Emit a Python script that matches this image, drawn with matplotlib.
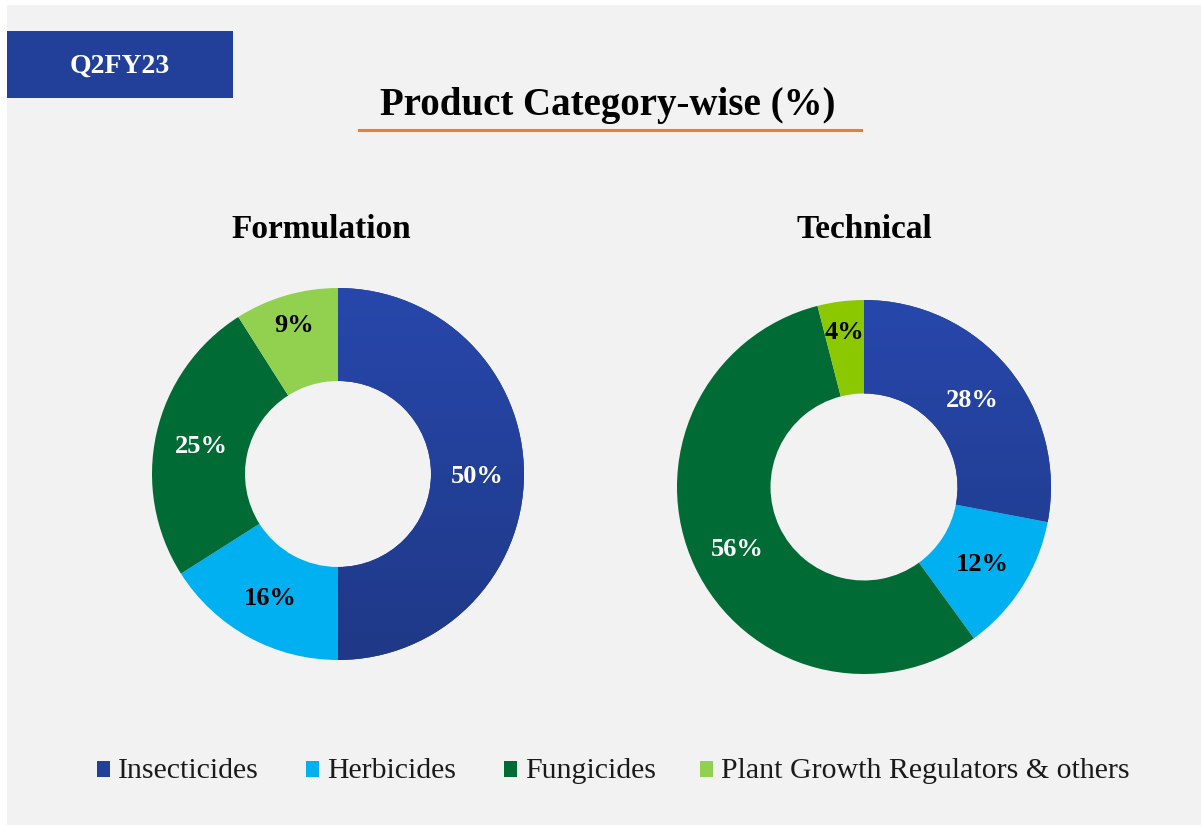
import numpy as np
import matplotlib
matplotlib.use('Agg')
import matplotlib.pyplot as plt
from matplotlib.patches import Rectangle
from matplotlib.colors import LinearSegmentedColormap

# 数据
categories = ['Insecticides', 'Herbicides', 'Fungicides', 'Plant Growth Regulators & others']
formulation = [50, 16, 25, 9]
technical = [28, 12, 56, 4]
colors_left = ['#2443a3', '#00b0f0', '#006b35', '#92d050']
colors_right = ['#2443a3', '#00b0f0', '#006b35', '#8cc800']
label_colors = ['white', 'black', 'white', 'black']

W, H = 1201, 825
serif = ['Liberation Serif', 'DejaVu Serif']
plt.rcParams['font.family'] = serif

fig = plt.figure(figsize=(W / 100, H / 100), dpi=100, facecolor='white')

# 灰色背景
fig.patches.append(Rectangle((7 / W, 0), 1, (H - 5) / H, transform=fig.transFigure,
                             facecolor='#f2f2f2', edgecolor='none', zorder=0))

# Q2FY23 标签框
fig.patches.append(Rectangle((7 / W, 1 - 98 / H), 226 / W, 67 / H, transform=fig.transFigure,
                             facecolor='#223f99', edgecolor='none', zorder=1))
fig.text(120 / W, 1 - 66 / H, 'Q2FY23', color='white', fontsize=20, fontweight='bold',
         ha='center', va='center')

# 标题 + 橙色下划线
fig.text(608 / W, 1 - 106 / H, 'Product Category-wise (%)', fontsize=28, fontweight='bold',
         ha='center', va='center')
fig.lines.append(plt.Line2D([359 / W, 861 / W], [1 - 130 / H, 1 - 130 / H],
                            transform=fig.transFigure, color='#ed7d31', lw=2.2))

grad_cmap = LinearSegmentedColormap.from_list('ins', ['#1f3987', '#2747ab'])


def donut(cx, cy, R, values, colors):
    ax = fig.add_axes([(cx - R) / W, (H - cy - R) / H, 2 * R / W, 2 * R / H])
    ax.set_zorder(3)
    wedges, _ = ax.pie(values, colors=colors, startangle=90, counterclock=False, radius=1,
                       wedgeprops=dict(width=0.5, linewidth=0))
    # 杀虫剂扇区做上下渐变
    g = np.linspace(0, 1, 256).reshape(-1, 1)
    im = ax.imshow(g, cmap=grad_cmap, extent=[-1, 1, -1, 1], origin='lower', aspect='auto', zorder=1.5)
    im.set_clip_path(wedges[0])
    ang = 90
    for v, c in zip(values, label_colors):
        mid = np.deg2rad(ang - v * 3.6 / 2)
        r = 0.845 if v < 10 else 0.75  # 小扇区标签靠外
        ax.text(r * np.cos(mid), r * np.sin(mid), f'{v}%', color=c, fontsize=19,
                fontweight='bold', ha='center', va='center_baseline', zorder=3)
        ang -= v * 3.6
    ax.set_xlim(-1, 1)
    ax.set_ylim(-1, 1)
    ax.axis('off')
    return ax


donut(338, 474, 186, formulation, colors_left)
donut(864, 487, 187, technical, colors_right)

fig.text(321 / W, 1 - 229 / H, 'Formulation', fontsize=24, fontweight='bold', ha='center', va='center')
fig.text(864 / W, 1 - 229 / H, 'Technical', fontsize=24, fontweight='bold', ha='center', va='center')

# 图例
sq_x = [97, 306, 504, 700]
for x, c, name in zip(sq_x, colors_left, categories):
    fc = '#223f99' if name == 'Insecticides' else c
    fig.patches.append(Rectangle((x / W, 1 - 777 / H), 13 / W, 16 / H, transform=fig.transFigure,
                                 facecolor=fc, edgecolor='none'))
    fig.text((x + 21) / W, 1 - 771 / H, name, fontsize=21.5, ha='left', va='center', color='#1a1a1a')

fig.savefig('out.png', dpi=100, facecolor=fig.get_facecolor())
